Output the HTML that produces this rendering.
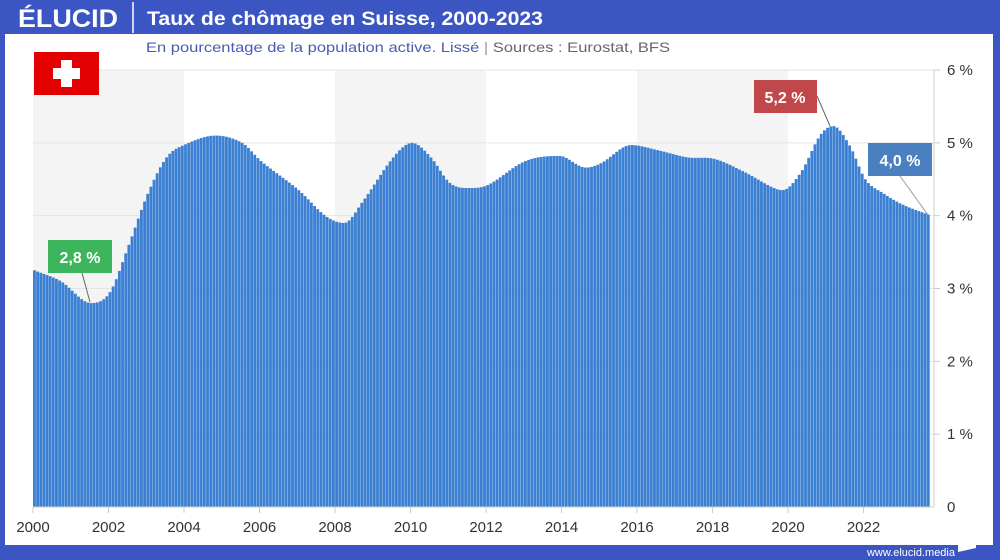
<!DOCTYPE html>
<html><head><meta charset="utf-8"><style>
body{margin:0;width:1000px;height:560px;overflow:hidden;background:#3b55c2;font-family:"Liberation Sans",sans-serif;}
</style></head><body>
<svg id="s" width="1000" height="560" xmlns="http://www.w3.org/2000/svg" style="position:absolute;left:0;top:0">
<rect x="0" y="0" width="1000" height="560" fill="#3b55c2"/>
<rect x="5" y="34" width="988" height="511" fill="#ffffff"/>
<text x="18" y="27" fill="#fff" font-size="25" font-weight="bold" textLength="100" lengthAdjust="spacingAndGlyphs">ÉLUCID</text>
<line x1="133" y1="2" x2="133" y2="33" stroke="#fff" stroke-width="1.5"/>
<text x="147" y="25" fill="#fff" font-size="19" font-weight="bold" textLength="396" lengthAdjust="spacingAndGlyphs">Taux de chômage en Suisse, 2000-2023</text>
<text x="146" y="52" fill="#4a5cb0" font-size="14" textLength="524" lengthAdjust="spacingAndGlyphs">En pourcentage de la population active. Lissé <tspan fill="#999">  |  </tspan><tspan fill="#666">Sources : Eurostat, BFS</tspan></text>
<g id="bands"></g>
<g id="grid"></g>
<g id="bars"></g>
<line x1="934" y1="70" x2="934" y2="507" stroke="#ccc"/>
<line x1="33" y1="507" x2="934" y2="507" stroke="#ccc"/>
<g id="ax" font-size="15" fill="#333"></g>
<rect x="34" y="52" width="65" height="43" fill="#e30000"/>
<rect x="61" y="60" width="11" height="27" fill="#fff"/>
<rect x="53" y="68" width="27" height="11" fill="#fff"/>
<line x1="82" y1="273" x2="90" y2="302" stroke="#666"/>
<rect x="48" y="240" width="64" height="33" fill="#3cb55c"/>
<text x="80" y="263" fill="#fff" font-size="16" font-weight="bold" text-anchor="middle">2,8 %</text>
<line x1="817" y1="96" x2="830" y2="126" stroke="#666"/>
<rect x="754" y="80" width="63" height="33" fill="#c0474a"/>
<text x="785" y="103" fill="#fff" font-size="16" font-weight="bold" text-anchor="middle">5,2 %</text>
<line x1="900" y1="176" x2="928" y2="215" stroke="#999"/>
<rect x="868" y="143" width="64" height="33" fill="#4a7fc0"/>
<text x="900" y="166" fill="#fff" font-size="16" font-weight="bold" text-anchor="middle">4,0 %</text>
<text x="955" y="556" fill="#fff" font-size="11" text-anchor="end">www.elucid.media</text>
<polygon points="958,552 976,548 976,540 958,545" fill="#fff"/>
</svg>
<script>
var NS="http://www.w3.org/2000/svg";
function el(p,t,a,txt){var e=document.createElementNS(NS,t);for(var k in a)e.setAttribute(k,a[k]);if(txt)e.textContent=txt;document.getElementById(p).appendChild(e);}
function X(y){return 33+(y-2000)*37.75;}
function Y(v){return 507-72.83*v;}
[[2000,2004],[2008,2012],[2016,2020]].forEach(function(b){el("bands","rect",{x:X(b[0]),y:70,width:X(b[1])-X(b[0]),height:437,fill:"#f4f4f4"});});
for(var i=1;i<=6;i++){el("grid","line",{x1:33,x2:934,y1:Y(i),y2:Y(i),stroke:"#e4e4e4"});
 el("ax","line",{x1:934,x2:940,y1:Y(i),y2:Y(i),stroke:"#ccc"});
 el("ax","text",{x:947,y:Y(i)+5},i+" %");}
el("ax","text",{x:947,y:512},"0");
for(var y=2000;y<=2022;y+=2){el("ax","line",{x1:X(y),x2:X(y),y1:507,y2:513,stroke:"#ccc"});el("ax","text",{x:X(y),y:532,"text-anchor":"middle"},""+y);}
var k=[[2000,3.25],[2000.7,3.1],[2001.5,2.8],[2002,2.95],[2002.5,3.6],[2003,4.3],[2003.5,4.8],[2004,4.98],[2004.8,5.1],[2005.5,5.0],[2006,4.75],[2007,4.35],[2007.7,4.0],[2008.2,3.9],[2008.7,4.2],[2009.5,4.8],[2010,5.0],[2010.5,4.8],[2011,4.45],[2011.5,4.38],[2012,4.42],[2013,4.75],[2013.9,4.82],[2014.6,4.66],[2015,4.72],[2015.8,4.97],[2016.5,4.9],[2017.3,4.8],[2018,4.78],[2018.8,4.6],[2019.5,4.4],[2019.8,4.35],[2020.3,4.6],[2020.8,5.1],[2021.15,5.23],[2021.6,4.95],[2022,4.5],[2022.5,4.3],[2023,4.15],[2023.75,4.0]];
var m=[];for(var i=0;i<k.length;i++){var a=k[Math.max(0,i-1)],b=k[Math.min(k.length-1,i+1)];var s=(b[1]-a[1])/(b[0]-a[0]);
 if(i>0&&i<k.length-1){var s1=(k[i][1]-a[1])/(k[i][0]-a[0]),s2=(b[1]-k[i][1])/(b[0]-k[i][0]);if(s1*s2<=0)s=0;}m.push(s);}
function val(t){for(var i=0;i<k.length-1;i++){if(t<=k[i+1][0]){var a=k[i],b=k[i+1],h=b[0]-a[0];var f=(t-a[0])/h;
 var h00=2*f*f*f-3*f*f+1,h10=f*f*f-2*f*f+f,h01=-2*f*f*f+3*f*f,h11=f*f*f-f*f;return h00*a[1]+h10*h*m[i]+h01*b[1]+h11*h*m[i+1];}}return k[k.length-1][1];}
var n=285,w=(930-33)/n;
for(var i=0;i<n;i++){var t=2000+i/12;var v=val(t);el("bars","rect",{x:33+i*w,y:Y(v),width:w-0.3,height:507-Y(v),fill:"#3b80d2"});}
</script>
</body></html>
